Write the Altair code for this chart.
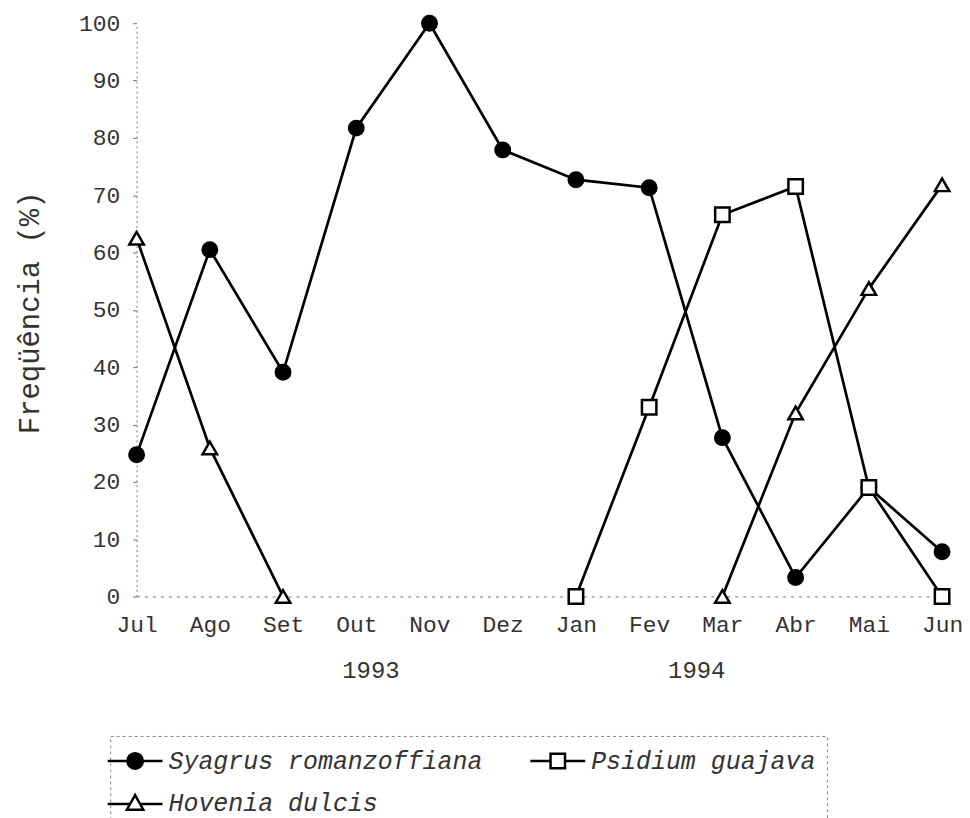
import altair as alt
import pandas as pd

months = ["Jul", "Ago", "Set", "Out", "Nov", "Dez", "Jan", "Fev", "Mar", "Abr", "Mai", "Jun"]
species = ["Syagrus romanzoffiana", "Psidium guajava", "Hovenia dulcis"]
syagrus = [24.7, 60.5, 39.1, 81.7, 100, 77.9, 72.7, 71.3, 27.7, 3.3, 19.0, 7.8]
psidium = [None, None, None, None, None, None, 0, 33.0, 66.6, 71.5, 19.0, 0]
hovenia = [62.5, 25.9, 0, None, None, None, None, None, 0, 32.0, 53.7, 71.8]
years = ["1993", "1994"]
year_pos = [3.2, 7.65]

rows = []
for name, vals in zip(species, [syagrus, psidium, hovenia]):
    seg = 0
    prev = None
    for i, v in enumerate(vals):
        if v is None:
            if prev is not None:
                seg += 1
            prev = None
            continue
        rows.append({"species": name, "idx": i, "month": months[i], "value": v,
                     "seg": f"{name}-{seg}"})
        prev = v
df = pd.DataFrame(rows)

FONT = "Liberation Mono"
TXT = "#333"
label_expr = "[" + ",".join(f"'{m}'" for m in months) + "][datum.value]"

x = alt.X("idx:Q", scale=alt.Scale(domain=[0, 11], nice=False, zero=False),
          axis=alt.Axis(values=list(range(12)), labelExpr=label_expr, title=None, grid=False,
                        labelFont=FONT, labelFontSize=23, labelColor=TXT, labelPadding=17,
                        labelFlush=False, labelOverlap=False,
                        ticks=False, domainColor="#777", domainDash=[3, 5], domainWidth=1))
y = alt.Y("value:Q", scale=alt.Scale(domain=[0, 100], nice=False),
          axis=alt.Axis(values=list(range(0, 101, 10)), title="Freqüência (%)", grid=False,
                        labelFont=FONT, labelFontSize=23, labelColor=TXT, labelPadding=13,
                        labelFlush=False,
                        tickSize=4, tickColor="#777", domainColor="#777", domainDash=[2, 3],
                        titleFont=FONT, titleFontSize=29, titleFontWeight="normal", titleColor=TXT,
                        titleAngle=270, titleAlign="center", titleBaseline="middle",
                        titleX=-107, titleY=290))

base = alt.Chart(df)
lines = base.mark_line(color="black", strokeWidth=2.7).encode(x=x, y=y, detail="seg:N")
points = base.mark_point(filled=True, stroke="black", strokeWidth=2.5, size=210, opacity=1).encode(
    x=x, y=y,
    shape=alt.Shape("species:N", scale=alt.Scale(domain=species, range=["circle", "square", "triangle-up"]), legend=None),
    fill=alt.Fill("species:N", scale=alt.Scale(domain=species, range=["black", "white", "white"]), legend=None),
)

# legend symbols: line stubs with the marker in the middle (unit = 12.5 px)
paths = [
    "M-2.2,0H-0.62M0.62,0H2.2M-0.62,0A0.62,0.62 0 1,0 0.62,0A0.62,0.62 0 1,0 -0.62,0Z",
    "M-2.2,0H-0.58M0.58,0H2.2M-0.58,-0.58H0.58V0.58H-0.58Z",
    "M-2.2,0.1H-0.33M0.33,0.1H2.2M0,-0.62L0.66,0.56H-0.66Z",
]
pad = "\u00a0" * 4
leg = alt.Legend(title=None, orient="none", legendX=-26.5, legendY=715, columns=2,
                 direction="horizontal",
                 labelExpr=f"datum.label == '{species[1]}' ? datum.label + '{pad}' : datum.label",
                 symbolSize=625, symbolStrokeWidth=2.5, symbolStrokeColor="black",
                 labelFont=FONT, labelFontSize=25, labelFontStyle="italic", labelColor=TXT,
                 labelOffset=19.5, labelLimit=700, columnPadding=42, rowPadding=15, padding=11,
                 strokeColor="#888")
legend_layer = alt.Chart(df).transform_filter("false").mark_point(
    filled=True, strokeWidth=2.5, opacity=1).encode(
    x=x, y=y,
    shape=alt.Shape("species:N", scale=alt.Scale(domain=species, range=paths), legend=leg),
    fill=alt.Fill("species:N", scale=alt.Scale(domain=species, range=["black", "white", "white"]), legend=leg),
    stroke=alt.Stroke("species:N", scale=alt.Scale(domain=species, range=["black", "black", "black"]), legend=leg),
)

year_df = pd.DataFrame({"year": years, "pos": year_pos})
year_text = alt.Chart(year_df).mark_text(font=FONT, fontSize=24, color=TXT, baseline="middle").encode(
    x=alt.X("pos:Q"), y=alt.value(650), text="year:N")

chart = alt.layer(lines, points, legend_layer, year_text).resolve_scale(
    shape="independent", fill="independent", stroke="independent"
).properties(
    width=808, height=575,
    autosize=alt.AutoSizeParams(type="none"),
    padding={"left": 129, "top": 14, "right": 20, "bottom": 221},
).configure_view(stroke=None).configure_legend(strokeDash=[3, 3])

chart.save("out.html", embed_options={"renderer": "svg", "actions": False})
